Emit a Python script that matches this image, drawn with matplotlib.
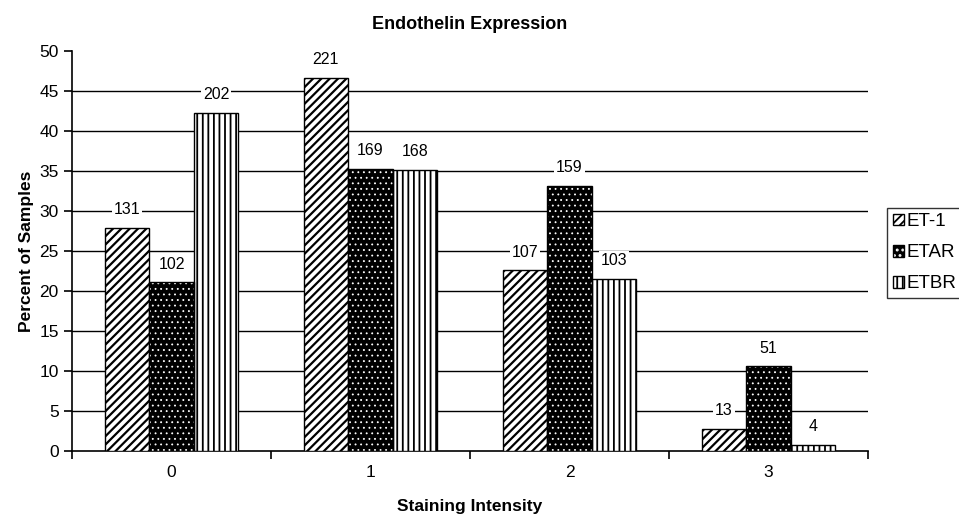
import numpy as np
import matplotlib.pyplot as plt

plt.rcParams['font.family'] = ['Liberation Sans', 'DejaVu Sans']

# Data
categories = ["0", "1", "2", "3"]
series = ["ET-1", "ETAR", "ETBR"]
et1 = [27.9, 46.7, 22.6, 2.8]
etar = [21.1, 35.3, 33.2, 10.6]
etbr = [42.3, 35.2, 21.5, 0.8]
et1_n = [131, 221, 107, 13]
etar_n = [102, 169, 159, 51]
etbr_n = [202, 168, 103, 4]

fig = plt.figure(figsize=(9.59, 5.28), dpi=100)
ax = fig.add_axes([0.0751, 0.146, 0.83, 0.757])

x = np.arange(len(categories))
w = 0.224

plt.rcParams['hatch.linewidth'] = 1.6
b1 = ax.bar(x - w, et1, w, color="white", edgecolor="black", hatch="////", linewidth=1.0, zorder=3)
plt.rcParams['hatch.linewidth'] = 0.6
# dotted black bars: white dots on black fill, then a black outline on top
b2a = ax.bar(x, etar, w, color="black", edgecolor="white", hatch="...", linewidth=0, zorder=3)
b2 = ax.bar(x, etar, w, fill=False, edgecolor="black", linewidth=1.0, zorder=4)
plt.rcParams['hatch.linewidth'] = 1.3
b3 = ax.bar(x + w, etbr, w, color="white", edgecolor="black", hatch="|||", linewidth=1.0, zorder=3)

for xs, vals, ns in [(x - w, et1, et1_n), (x, etar, etar_n), (x + w, etbr, etbr_n)]:
    for xi, v, n in zip(xs, vals, ns):
        ax.annotate(str(n), (xi, v), xytext=(0, 13), textcoords="offset points",
                    ha="center", va="center", fontsize=11.5, zorder=5,
                    bbox=dict(facecolor="white", edgecolor="none", pad=1.5))

ax.set_xlim(-0.5, 3.5)
ax.set_ylim(0, 50)
ax.set_yticks(np.arange(0, 51, 5))
ax.set_xticks(x)
ax.set_xticklabels(categories)
ax.set_xticks(np.arange(-0.5, 3.6, 1), minor=True)
ax.tick_params(axis="x", which="major", length=0, labelsize=12.5, pad=10)
ax.tick_params(axis="x", which="minor", length=6, width=1.2, direction="out")
ax.tick_params(axis="y", length=6, width=1.2, labelsize=12.5, direction="out")

for yv in np.arange(5, 50, 5):
    ax.axhline(yv, color="black", linewidth=1.0, zorder=1)

ax.spines["top"].set_visible(False)
ax.spines["right"].set_visible(False)
ax.spines["left"].set_linewidth(1.2)
ax.spines["bottom"].set_linewidth(1.2)

ax.set_title("Endothelin Expression", fontsize=13, fontweight="bold", pad=16)
ax.set_xlabel("Staining Intensity", fontsize=12.5, fontweight="bold", labelpad=14)
ax.set_ylabel("Percent of Samples", fontsize=12.5, fontweight="bold", labelpad=4)

leg = fig.legend([b1, (b2a, b2), b3], series, loc="upper left", bbox_to_anchor=(0.925, 0.607),
                 borderaxespad=0, fontsize=13.5, frameon=True, fancybox=False, handlelength=0.6,
                 handleheight=0.6, handletextpad=0.15, labelspacing=0.75, borderpad=0.3)
leg.get_frame().set_edgecolor("black")
leg.get_frame().set_linewidth(1.0)

fig.savefig("out.png", dpi=100)
